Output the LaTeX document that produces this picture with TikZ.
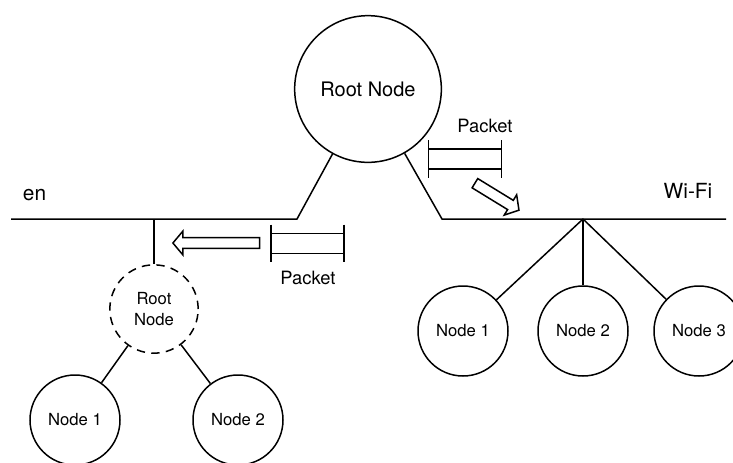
\documentclass[tikz,border=0pt]{standalone}
\usepackage{fontspec}
\setmainfont{TeX Gyre Heros}
\usepackage{tikz}
\usetikzlibrary{shapes}
\usetikzlibrary{shapes.arrows}
\usetikzlibrary{positioning}

\begin{document}
\begin{tikzpicture}[
	x=0.6pt, y=-0.6pt,
	line width=0.9pt,
	font=\fontsize{10}{12.6}\selectfont
]
\tikzset{
    mycirc/.style = {circle, draw=black, align=center, inner sep=0pt, minimum size=54pt},
    myroot/.style = {mycirc, minimum size=88pt, font=\fontsize{12}{14}\selectfont},
    mydashed/.style = {mycirc, minimum size=53pt, dash pattern=on 5pt off 3.8pt},
    mypkt/.style = {rectangle, inner sep=0pt, minimum width=43pt, minimum height=11pt},
    mylbl/.style = {font=\fontsize{11}{13}\selectfont},
    mynet/.style = {font=\fontsize{12.5}{15}\selectfont},
    myarrow/.style = {single arrow, draw=black, inner sep=2.8pt, single arrow head extend=3.9pt, single arrow tip angle=100}
}
\useasboundingbox (0,0) rectangle (733,462);

% root node and the two links
\node[myroot] (root) at (368,89) {Root Node};
\coordinate (enL) at (11,219);
\coordinate (enR) at (297,219);
\coordinate (enTap) at (154,219);
\coordinate (wfL) at (442,219);
\coordinate (wfR) at (726,219);
\coordinate (wfHub) at (583,219);
\draw (enL) -- (enR) -- (root);
\draw (root) -- (wfL) -- (wfR);
\node[mynet] (lblen) at (34.5,195.5) {en};
\node[mynet] (lblwf) at (688,191) {Wi-Fi};

% packets
\node[mypkt] (pkt1) at (465,159) {};
\node[mypkt] (pkt2) at (307.5,243.5) {};
\foreach \p in {pkt1,pkt2}{
    \draw (\p.north west) -- (\p.north east);
    \draw (\p.south west) -- (\p.south east);
    \draw ([yshift=5.4pt]\p.north west) -- ([yshift=-5.4pt]\p.south west);
    \draw ([yshift=5.4pt]\p.north east) -- ([yshift=-5.4pt]\p.south east);
}
\node[mylbl] (lblpkt1) at (485,126) {Packet};
\node[mylbl] (lblpkt2) at (308,278) {Packet};
\node[myarrow, minimum height=31pt, rotate=-31.5] (arr1) at (495,195.5) {};
\node[myarrow, minimum height=52pt, rotate=180] (arr2) at (218.5,243) {};

% en side
\node[mydashed] (root2) at (154,309) {Root\\Node};
\draw (enTap) -- (root2);
\node[mycirc] (en1) at (75,420) {Node 1};
\node[mycirc] (en2) at (238,420) {Node 2};
\draw (root2) -- (en1);
\draw (root2) -- (en2);

% Wi-Fi side
\node[mycirc] (wf1) at (463,331) {Node 1};
\node[mycirc] (wf2) at (583,331) {Node 2};
\node[mycirc] (wf3) at (699,331) {Node 3};
\foreach \n in {wf1,wf2,wf3}
    \draw (wfHub) -- (\n);
\end{tikzpicture}
\end{document}
